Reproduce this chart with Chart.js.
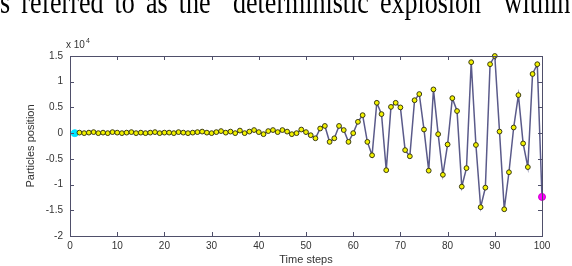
<!DOCTYPE html>
<html>
<head>
<meta charset="utf-8">
<script src="https://cdn.jsdelivr.net/npm/chart.js@4/dist/chart.umd.min.js"></script>
<style>
  html, body { margin: 0; padding: 0; background: #fff; overflow: hidden; }
  #wrap { position: relative; width: 572px; height: 266px; }
  #line { position: absolute; left: 0; top: -8px; white-space: nowrap;
          font-family: "Liberation Serif", "DejaVu Serif", serif; font-size: 26px;
          line-height: 26px; word-spacing: 4.6px; color: #000;
          transform-origin: 0 21.8px; transform: scale(1, 1.3); }
  #line .q { color: #f2f2f2; }
  canvas { position: absolute; left: 0; top: 0; }
</style>
</head>
<body>
<div id="wrap">
  <canvas id="chart" width="572" height="266"></canvas>
  <div id="line">s referred to as the <span class="q">“</span>deterministic explosion<span class="q">”</span> within</div>
</div>
<script>
// time steps
const steps = [
  1, 2, 3, 4, 5, 6, 7, 8, 9, 10, 11, 12, 13, 14, 15, 16, 17, 18, 19, 20,
  21, 22, 23, 24, 25, 26, 27, 28, 29, 30, 31, 32, 33, 34, 35, 36, 37, 38, 39, 40,
  41, 42, 43, 44, 45, 46, 47, 48, 49, 50, 51, 52, 53, 54, 55, 56, 57, 58, 59, 60,
  61, 62, 63, 64, 65, 66, 67, 68, 69, 70, 71, 72, 73, 74, 75, 76, 77, 78, 79, 80,
  81, 82, 83, 84, 85, 86, 87, 88, 89, 90, 91, 92, 93, 94, 95, 96, 97, 98, 99, 100
];
// particle position, in units of 10^4
const position = [
  0.00, 0.01, 0.00, 0.01, 0.02, 0.00, 0.01, 0.00, 0.02, 0.01,
  0.00, 0.01, 0.02, 0.00, 0.01, 0.00, 0.01, 0.02, 0.00, 0.01,
  0.01, 0.00, 0.02, 0.01, 0.00, 0.01, 0.02, 0.03, 0.01, 0.00,
  0.02, 0.04, 0.01, 0.03, 0.00, 0.05, 0.00, 0.03, 0.06, 0.02,
  -0.02, 0.04, 0.06, 0.02, 0.06, 0.03, -0.02, 0.00, 0.07, 0.02,
  -0.04, -0.10, 0.09, 0.14, -0.17, -0.10, 0.14, 0.06, -0.17, 0.00,
  0.22, 0.35, -0.17, -0.43, 0.59, 0.37, -0.72, 0.51, 0.59, 0.50,
  -0.33, -0.45, 0.64, 0.76, 0.07, -0.73, 0.85, -0.02, -0.81, -0.22,
  0.68, 0.43, -1.04, -0.68, 1.38, -0.23, -1.44, -1.06, 1.34, 1.50,
  0.03, -1.48, -0.76, 0.11, 0.74, -0.20, -0.66, 1.15, 1.34, -1.24
];
const xTicks = [0, 10, 20, 30, 40, 50, 60, 70, 80, 90, 100];
const yTicks = [-2, -1.5, -1, -0.5, 0, 0.5, 1, 1.5];

const axisColor = '#4f4f6a';
const textColor = '#333333';
const last = steps.length - 1;

// box, inward ticks and labels in the MATLAB style
const matlabAxes = {
  id: 'matlabAxes',
  afterDraw(chart) {
    const ctx = chart.ctx;
    const a = chart.chartArea;
    const xs = chart.scales.x, ys = chart.scales.y;
    ctx.save();
    ctx.strokeStyle = axisColor;
    ctx.lineWidth = 1;
    ctx.strokeRect(Math.round(a.left) + 0.5, Math.round(a.top) + 0.5,
                   Math.round(a.right - a.left), Math.round(a.bottom - a.top));
    ctx.beginPath();
    xTicks.forEach(v => {
      const px = Math.round(xs.getPixelForValue(v)) + 0.5;
      ctx.moveTo(px, a.bottom); ctx.lineTo(px, a.bottom - 4);
      ctx.moveTo(px, a.top); ctx.lineTo(px, a.top + 4);
    });
    yTicks.forEach(v => {
      const py = Math.round(ys.getPixelForValue(v)) + 0.5;
      ctx.moveTo(a.left, py); ctx.lineTo(a.left + 4, py);
      ctx.moveTo(a.right, py); ctx.lineTo(a.right - 4, py);
    });
    ctx.stroke();

    ctx.fillStyle = textColor;
    ctx.font = '11px "Liberation Sans", Arial, sans-serif';
    ctx.textAlign = 'center';
    ctx.textBaseline = 'middle';
    ctx.fillText('Time steps', (a.left + a.right) / 2, 260);
    ctx.save();
    ctx.translate(31, (a.top + a.bottom) / 2);
    ctx.rotate(-Math.PI / 2);
    ctx.fillText('Particles position', 0, 0);
    ctx.restore();

    ctx.textAlign = 'left';
    ctx.textBaseline = 'alphabetic';
    ctx.font = '10px "Liberation Sans", Arial, sans-serif';
    ctx.fillText('x 10', 66, 48);
    ctx.font = '7px "Liberation Sans", Arial, sans-serif';
    ctx.fillText('4', 86, 43);
    ctx.restore();
  }
};

new Chart(document.getElementById('chart'), {
  type: 'line',
  data: {
    datasets: [{
      data: steps.map((s, i) => ({ x: s, y: position[i] })),
      borderColor: '#5a5a8a',
      borderWidth: 1.5,
      tension: 0,
      clip: false,
      pointRadius: steps.map((s, i) => (i === 0 || i === last) ? 3.5 : 2.4),
      pointBorderWidth: 1,
      pointBackgroundColor: steps.map((s, i) => i === 0 ? '#00e5ff' : (i === last ? '#ff00ff' : '#f2f200')),
      pointBorderColor: steps.map((s, i) => i === 0 ? '#00e5ff' : (i === last ? '#cc00cc' : '#3a3a10'))
    }]
  },
  options: {
    responsive: false,
    animation: false,
    devicePixelRatio: 1,
    layout: { padding: { left: 0, right: 30, top: 56, bottom: 0 } },
    plugins: { legend: { display: false }, tooltip: { enabled: false } },
    scales: {
      x: {
        type: 'linear', min: 0, max: 100,
        afterBuildTicks: s => { s.ticks = xTicks.map(v => ({ value: v })); },
        afterFit: s => { s.height = 30; },
        grid: { display: false, drawTicks: false },
        border: { display: false },
        ticks: { color: textColor, padding: 4, maxRotation: 0,
                 font: { size: 10, family: '"Liberation Sans", Arial, sans-serif' },
                 callback: v => String(v) }
      },
      y: {
        min: -2, max: 1.5,
        afterBuildTicks: s => { s.ticks = yTicks.map(v => ({ value: v })); },
        afterFit: s => { s.width = 70; },
        grid: { display: false, drawTicks: false },
        border: { display: false },
        ticks: { color: textColor, padding: 7,
                 font: { size: 10, family: '"Liberation Sans", Arial, sans-serif' },
                 callback: v => String(v) }
      }
    }
  },
  plugins: [matlabAxes]
});
</script>
</body>
</html>
